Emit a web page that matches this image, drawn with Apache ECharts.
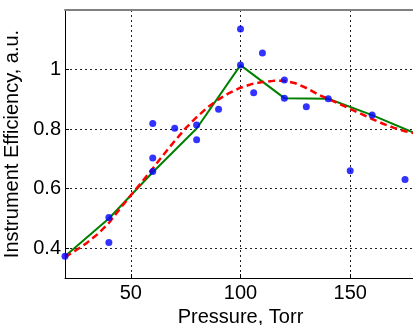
<!DOCTYPE html>
<html>
<head>
<meta charset="utf-8">
<script src="https://cdn.jsdelivr.net/npm/echarts@6/dist/echarts.min.js"></script>
<style>
  html, body { margin: 0; padding: 0; background: #fff; }
  #chart { width: 413px; height: 325px; }
</style>
</head>
<body>
<div id="chart"></div>
<script>
// measured points (blue dots)
const pressure = [20, 40, 40, 60, 60, 60, 70, 80, 80, 90, 100, 100, 106, 110, 120, 120, 130, 140, 150, 160, 175];
const efficiency = [0.373, 0.503, 0.419, 0.819, 0.703, 0.658, 0.803, 0.814, 0.764, 0.867, 1.136, 1.015, 0.922, 1.056, 0.965, 0.904, 0.875, 0.902, 0.660, 0.847, 0.631];

// green piecewise line
const linePressure = [20, 40, 60, 80, 100, 120, 140, 160, 180];
const lineEff = [0.373, 0.50, 0.655, 0.802, 1.015, 0.904, 0.902, 0.847, 0.785];

// red dashed fit
const fitPressure = [20, 25, 30, 35, 40, 45, 50, 55, 60, 65, 70, 75, 80, 85, 90, 95, 100, 105, 110, 115, 120, 125, 130, 135, 140, 145, 150, 155, 160, 165, 170, 175, 180];
const fitEff = [0.370, 0.393, 0.418, 0.448, 0.485, 0.532, 0.578, 0.622, 0.668, 0.715, 0.760, 0.803, 0.840, 0.873, 0.900, 0.922, 0.939, 0.951, 0.958, 0.962, 0.962, 0.954, 0.938, 0.918, 0.901, 0.885, 0.868, 0.851, 0.834, 0.818, 0.804, 0.793, 0.785];

const xTicks = [50, 100, 150];
const yTicks = [0.4, 0.6, 0.8, 1];

const zip = (xs, ys) => xs.map((x, i) => [x, ys[i]]);

const font = "Liberation Sans, Arial, sans-serif";
const gridLine = { show: true, lineStyle: { color: "#222", width: 1, type: [2, 3] } };

const chart = echarts.init(document.getElementById("chart"), null, { renderer: "canvas" });

chart.setOption({
  animation: false,
  backgroundColor: "#fff",
  grid: { left: 65, top: 10, bottom: 47, right: -3, containLabel: false, outerBoundsMode: "none" },
  xAxis: [
    {
      type: "value",
      min: 20,
      max: 180,
      name: "Pressure, Torr",
      nameLocation: "middle",
      nameGap: 22,
      nameTextStyle: { fontFamily: font, fontSize: 20, color: "#000" },
      axisLine: { lineStyle: { color: "#000", width: 1 } },
      axisTick: { inside: true, length: 4, customValues: xTicks, lineStyle: { color: "#000" } },
      axisLabel: { customValues: xTicks, fontFamily: font, fontSize: 20, color: "#000", margin: 5 },
      splitLine: gridLine,
    },
    {
      type: "value",
      position: "top",
      min: 20,
      max: 180,
      axisLine: { show: true, lineStyle: { color: "#808080", width: 2 } },
      axisTick: { show: false },
      axisLabel: { show: false },
      splitLine: { show: false },
    },
  ],
  yAxis: {
    type: "value",
    min: 0.3,
    max: 1.2,
    name: "Instrument Efficiency, a.u.",
    nameLocation: "middle",
    nameGap: 38,
    nameTextStyle: { fontFamily: font, fontSize: 20, color: "#000" },
    axisLine: { show: true, lineStyle: { color: "#000", width: 1 } },
    axisTick: { show: true, inside: true, length: 4, customValues: yTicks, lineStyle: { color: "#000" } },
    axisLabel: {
      customValues: yTicks,
      fontFamily: font,
      fontSize: 20,
      color: "#000",
      margin: 4,
      formatter: (v) => String(Math.round(v * 10) / 10),
    },
    splitLine: gridLine,
  },
  series: [
    {
      type: "line",
      data: zip(linePressure, lineEff),
      showSymbol: false,
      lineStyle: { color: "#008000", width: 2 },
      z: 2,
    },
    {
      type: "line",
      data: zip(fitPressure, fitEff),
      showSymbol: false,
      lineStyle: { color: "#ff0000", width: 2.5, type: [7, 4] },
      z: 3,
    },
    {
      type: "scatter",
      data: zip(pressure, efficiency),
      symbolSize: 7,
      itemStyle: { color: "#0000ff" },
      z: 4,
    },
  ],
});
</script>
</body>
</html>
